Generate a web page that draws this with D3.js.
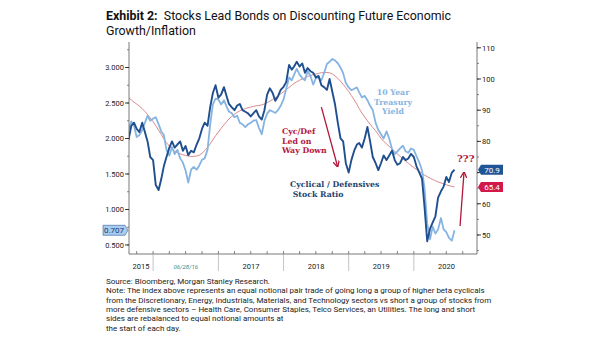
<!DOCTYPE html>
<html lang="en">
<head>
<meta charset="UTF-8">
<title>Exhibit 2</title>
<script src="https://cdn.jsdelivr.net/npm/d3@7"></script>
<style>
  body { margin: 0; background: #fff; }
  svg { display: block; font-family: Roboto, "Noto Sans", sans-serif; }
  .ann { font-family: "DejaVu Serif", serif; font-weight: bold; }
</style>
</head>
<body>
<svg id="chart" width="605" height="341"></svg>
<script>
// semi-monthly sample dates, 16 Aug 2015 .. 16 Aug 2020
var months = d3.timeMonth.range(new Date(2015, 8, 1), new Date(2020, 8, 1));
var dates = [new Date(2015, 7, 16)].concat(
  months.flatMap(function(m) { return [m, new Date(m.getFullYear(), m.getMonth(), 16)]; })
);

// Cyclical / Defensives stock ratio (right axis)
var ratio = [80.4, 85, 86, 84, 83, 86, 83, 80, 75, 74,
  66, 64.4, 68, 72, 75, 78, 80, 78, 79, 80,
  77, 78.5, 75.6, 77, 76.5, 79, 81, 84, 86, 85,
  91, 95.5, 98, 94, 95, 97.4, 94.5, 92, 91, 90,
  91.5, 92, 90, 89.5, 89, 88, 89, 90, 88, 87,
  90, 95, 97, 95.5, 93, 94.5, 96.5, 97.5, 99, 104.5,
  103, 104, 105.5, 104, 105, 102, 103.5, 102.5, 102, 100.5,
  101, 98, 97.4, 96.5, 100, 96, 92, 86, 81, 80,
  73, 70, 74, 77, 79, 79.5, 78, 81, 84.6, 80,
  75, 73, 70.8, 73, 75.5, 74, 75.5, 77, 74, 72.5,
  73, 75, 74, 74.5, 76, 75, 72, 70, 68, 59,
  48, 52, 54, 56, 62, 64, 65.5, 68.6, 67, 70, 70.9];

// 10 year treasury yield (left axis)
var yield10 = [2.12, 2.24, 2.18, 2.02, 2.05, 2.12, 2.22, 2.32, 2.25, 2.28,
  2.3, 2.2, 2.1, 2.05, 1.84, 1.76, 1.88, 1.78, 1.84, 1.72,
  1.66, 1.55, 1.38, 1.56, 1.6, 1.56, 1.62, 1.7, 1.72, 1.84,
  2.2, 2.48, 2.56, 2.55, 2.48, 2.54, 2.45, 2.38, 2.36, 2.3,
  2.32, 2.22, 2.2, 2.16, 2.2, 2.22, 2.25, 2.26, 2.15, 2.06,
  2.25, 2.35, 2.4, 2.38, 2.36, 2.4, 2.46, 2.55, 2.7, 2.86,
  2.82, 2.9, 2.98, 2.9, 2.85, 2.82, 2.95, 2.88, 2.76, 2.85,
  2.86, 2.82, 2.92, 3.05, 3.08, 3.12, 3.1, 3.06, 3.0, 2.92,
  2.78, 2.72, 2.68, 2.7, 2.72, 2.65, 2.58, 2.6, 2.54, 2.46,
  2.4, 2.22, 2.12, 2.06, 2.0, 2.1, 2.0, 1.85, 1.78, 1.82,
  1.86, 1.9, 1.82, 1.8, 1.86, 1.84, 1.75, 1.66, 1.55, 1.3,
  0.8, 0.58, 0.76, 0.66, 0.72, 0.88, 0.72, 0.68, 0.6, 0.56, 0.707];

// moving average of the ratio (right axis)
var ratioMA = [94, 93.3, 92.6, 92, 91.3, 90.5, 89.6, 88.6, 87.5, 86.3,
  85, 83.6, 82.2, 80.8, 79.6, 78.5, 77.6, 76.9, 76.4, 76,
  75.7, 75.5, 75.3, 75.2, 75.2, 75.3, 75.6, 76.2, 77, 78,
  79.2, 80.5, 81.8, 83, 84.2, 85.3, 86.3, 87.2, 88, 88.7,
  89.3, 89.8, 90.2, 90.5, 90.8, 91, 91.2, 91.4, 91.5, 91.7,
  92, 92.4, 92.9, 93.4, 94, 94.6, 95.2, 95.9, 96.6, 97.3,
  98, 98.6, 99.1, 99.6, 100, 100.4, 100.8, 101.1, 101.4, 101.6,
  101.8, 102, 102.1, 102.1, 102, 101.6, 101, 100.2, 99.3, 98.3,
  97.2, 96, 94.7, 93.3, 91.9, 90.5, 89.1, 87.8, 86.6, 85.5,
  84.4, 83.4, 82.2, 81, 80, 79.2, 78.4, 77.6, 76.8, 76,
  75.2, 74.4, 73.7, 73, 72.3, 71.6, 71, 70.4, 69.8, 69.2,
  68.7, 68.2, 67.8, 67.4, 67, 66.7, 66.4, 66.1, 65.8, 65.6, 65.4];

var leftTicks = [0.5, 1.0, 1.5, 2.0, 2.5, 3.0];
var rightTicks = [50, 60, 70, 80, 90, 100, 110];
var rightLabels = [50, 60, 80, 90, 100, 110];   // 70 sits under the value tag
var yearLabels = ["2015", "06/28/16", "2017", "2018", "2019", "2020"];

var noteLines = [
  "Source: Bloomberg, Morgan Stanley Research.",
  "Note: The index above represents an equal notional pair trade of going long a group of higher beta cyclicals",
  "from the Discretionary, Energy, Industrials, Materials, and Technology sectors vs short a group of stocks from",
  "more defensive sectors \u2013 Health Care, Consumer Staples, Telco Services, an Utilities. The long and short",
  "sides are rebalanced to equal notional amounts at",
  "the start of each day."
];

var cDark = "#1f4f8f", cLight = "#86b4e2", cMA = "#d98a8e", cRed = "#b5163c";

var svg = d3.select("#chart");
var plotL = 129, plotR = 477, plotT = 45, plotB = 254;

var x = d3.scaleTime()
  .domain([new Date(2015, 7, 19), new Date(2020, 11, 20)])
  .range([plotL, plotR]);
var yL = d3.scaleLinear().domain([0.373, 3.317]).range([plotB, plotT]);
var yR = d3.scaleLinear().domain([43.9, 110.9]).range([plotB, plotT]);

// title
var title = svg.append("text").attr("x", 106).attr("y", 20)
  .attr("font-size", 12.4).attr("fill", "#111");
title.append("tspan").attr("font-weight", "bold").text("Exhibit 2:");
title.append("tspan").text("\u00a0 Stocks Lead Bonds on Discounting Future Economic");
svg.append("text").attr("x", 106).attr("y", 35).attr("font-size", 12.4)
  .attr("fill", "#111").text("Growth/Inflation");

svg.append("clipPath").attr("id", "clip").append("rect")
  .attr("x", plotL).attr("y", plotT - 5).attr("width", plotR - plotL).attr("height", plotB - plotT + 5);

var plot = svg.append("g").attr("clip-path", "url(#clip)");

var lineR = d3.line().x(function(d, i) { return x(dates[i]); })
  .y(function(d) { return yR(d); });
var lineL = d3.line().x(function(d, i) { return x(dates[i]); })
  .y(function(d) { return yL(d); });

plot.append("path").attr("d", lineR(ratioMA)).attr("fill", "none")
  .attr("stroke", cMA).attr("stroke-width", 1);
plot.append("path").attr("d", lineL(yield10)).attr("fill", "none")
  .attr("stroke", cLight).attr("stroke-width", 1.8).attr("stroke-linejoin", "round");
plot.append("path").attr("d", lineR(ratio)).attr("fill", "none")
  .attr("stroke", cDark).attr("stroke-width", 1.9).attr("stroke-linejoin", "round");

// axes lines
var axisColor = "#555";
svg.append("line").attr("x1", plotL).attr("x2", plotL).attr("y1", plotT - 3).attr("y2", plotB)
  .attr("stroke", axisColor).attr("stroke-width", 0.8);
svg.append("line").attr("x1", plotR).attr("x2", plotR).attr("y1", plotT - 3).attr("y2", plotB)
  .attr("stroke", axisColor).attr("stroke-width", 0.8);
svg.append("line").attr("x1", plotL).attr("x2", plotR).attr("y1", plotB).attr("y2", plotB)
  .attr("stroke", axisColor).attr("stroke-width", 0.8);

// left axis
var minorL = d3.range(0.5, 3.3, 0.25);
svg.append("g").selectAll("line").data(minorL).enter().append("line")
  .attr("x1", plotL - 2).attr("x2", plotL).attr("y1", function(d) { return yL(d); })
  .attr("y2", function(d) { return yL(d); }).attr("stroke", axisColor).attr("stroke-width", 0.7);
svg.append("g").selectAll("line").data(leftTicks).enter().append("line")
  .attr("x1", plotL - 4).attr("x2", plotL).attr("y1", function(d) { return yL(d); })
  .attr("y2", function(d) { return yL(d); }).attr("stroke", "#222").attr("stroke-width", 0.9);
svg.append("g").selectAll("text").data(leftTicks).enter().append("text")
  .attr("x", plotL - 5).attr("y", function(d) { return yL(d) + 2.8; })
  .attr("text-anchor", "end").attr("font-size", 7.5).attr("fill", "#222")
  .text(d3.format(".3f"));

// right axis
var minorR = d3.range(45, 111, 5);
svg.append("g").selectAll("line").data(minorR).enter().append("line")
  .attr("x1", plotR).attr("x2", plotR + 2).attr("y1", function(d) { return yR(d); })
  .attr("y2", function(d) { return yR(d); }).attr("stroke", axisColor).attr("stroke-width", 0.7);
svg.append("g").selectAll("line").data(rightTicks).enter().append("line")
  .attr("x1", plotR).attr("x2", plotR + 4).attr("y1", function(d) { return yR(d); })
  .attr("y2", function(d) { return yR(d); }).attr("stroke", "#222").attr("stroke-width", 0.9);
svg.append("g").selectAll("text").data(rightLabels).enter().append("text")
  .attr("x", plotR + 5).attr("y", function(d) { return yR(d) + 2.8; })
  .attr("font-size", 7.5).attr("fill", "#222").text(function(d) { return d; });

// bottom axis: quarterly ticks, year separators, labels
var quarters = d3.timeMonth.every(3).range(new Date(2015, 9, 1), new Date(2020, 11, 1));
svg.append("g").selectAll("line").data(quarters).enter().append("line")
  .attr("x1", function(d) { return x(d); }).attr("x2", function(d) { return x(d); })
  .attr("y1", plotB - 3).attr("y2", plotB).attr("stroke", axisColor).attr("stroke-width", 0.7);
var years = d3.timeYear.range(new Date(2016, 0, 1), new Date(2021, 0, 1));
svg.append("g").selectAll("line").data(years).enter().append("line")
  .attr("x1", function(d) { return x(d); }).attr("x2", function(d) { return x(d); })
  .attr("y1", plotB).attr("y2", plotB + 17).attr("stroke", "#aaa").attr("stroke-width", 0.7);
var yearSpans = [x.domain()[0]].concat(years);
svg.append("g").selectAll("text").data(yearLabels).enter().append("text")
  .attr("x", function(d, i) {
    var a = x(yearSpans[i]);
    var b = i + 1 < yearSpans.length ? x(yearSpans[i + 1]) : x(new Date(2021, 0, 1));
    return (a + b) / 2;
  })
  .attr("y", plotB + 15).attr("text-anchor", "middle")
  .attr("font-size", function(d, i) { return i === 1 ? 6 : 7.5; })
  .attr("font-style", function(d, i) { return i === 1 ? "italic" : "normal"; })
  .attr("fill", function(d, i) { return i === 1 ? "#3b8c86" : "#222"; })
  .text(function(d) { return d; });

// last value tags
function tag(xp, yp, txt, fill, color, pointRight) {
  var w = 22, h = 10, p = 3;
  var pts = pointRight
    ? [[xp - w - p, yp - h / 2], [xp - p, yp - h / 2], [xp, yp], [xp - p, yp + h / 2], [xp - w - p, yp + h / 2]]
    : [[xp, yp], [xp + p, yp - h / 2], [xp + w + p, yp - h / 2], [xp + w + p, yp + h / 2], [xp + p, yp + h / 2]];
  svg.append("polygon").attr("points", pts.map(function(q) { return q.join(","); }).join(" "))
    .attr("fill", fill).attr("stroke", pointRight ? "#2f5f9f" : "none").attr("stroke-width", 0.6);
  svg.append("text").attr("x", pointRight ? xp - p - w / 2 : xp + p + w / 2).attr("y", yp + 3)
    .attr("text-anchor", "middle").attr("font-size", 8).attr("fill", color).text(txt);
}
var last = dates.length - 1;
tag(plotL - 1, yL(yield10[last]), d3.format(".3f")(yield10[last]), "#a9cbee", "#163a6e", true);
tag(plotR + 1, yR(ratio[last]), ratio[last].toFixed(1), "#1f5597", "#fff", false);
tag(plotR + 1, yR(ratioMA[last]), ratioMA[last].toFixed(1), "#d3184a", "#fff", false);

// annotation arrows
var defs = svg.append("defs");
defs.append("marker").attr("id", "head").attr("viewBox", "0 0 10 10").attr("refX", 8).attr("refY", 5)
  .attr("markerWidth", 5).attr("markerHeight", 5).attr("orient", "auto")
  .append("path").attr("d", "M0,0 L10,5 L0,10").attr("fill", "none")
  .attr("stroke", cRed).attr("stroke-width", 2);
var arrows = [
  { from: [new Date(2018, 7, 1), 91], to: [new Date(2018, 9, 30), 72.1] },
  { from: [new Date(2020, 8, 16), 52.9], to: [new Date(2020, 9, 8), 69.9] }
];
svg.append("g").selectAll("line").data(arrows).enter().append("line")
  .attr("x1", function(d) { return x(d.from[0]); }).attr("y1", function(d) { return yR(d.from[1]); })
  .attr("x2", function(d) { return x(d.to[0]); }).attr("y2", function(d) { return yR(d.to[1]); })
  .attr("stroke", cRed).attr("stroke-width", 1.3).attr("marker-end", "url(#head)");

// annotation texts
function block(lines, xp, yp, color, anchor) {
  var t = svg.append("text").attr("class", "ann").attr("font-size", 7.8)
    .attr("fill", color).attr("text-anchor", anchor);
  lines.forEach(function(s, i) {
    t.append("tspan").attr("x", xp).attr("y", yp + i * 9.5).text(s);
  });
}
block(["10 Year", "Treasury", "Yield"], 393, 95, cLight, "middle");
block(["Cyc/Def", "Led on", "Way Down"], 282, 134, cRed, "start");
block(["Cyclical / Defensives", " Stock Ratio"], 290, 187, "#1f3f6e", "start");
svg.append("text").attr("class", "ann").attr("x", 457).attr("y", 162)
  .attr("font-size", 10).attr("fill", cRed).text("???");

// footnote
svg.append("g").selectAll("text").data(noteLines).enter().append("text")
  .attr("x", 106).attr("y", function(d, i) { return 284 + i * 9.3; })
  .attr("font-size", 8).attr("fill", "#222").text(function(d) { return d; });
</script>
</body>
</html>
